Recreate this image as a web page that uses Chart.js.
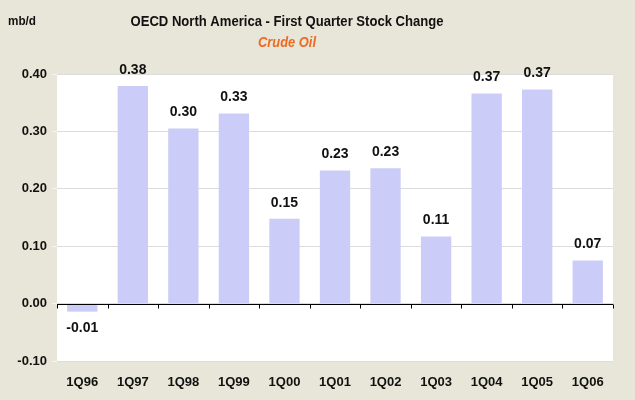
<!DOCTYPE html>
<html>
<head>
<meta charset="utf-8">
<script src="https://cdn.jsdelivr.net/npm/chart.js@4"></script>
<style>
  html, body { margin: 0; padding: 0; background: #e7e6d8; }
  #wrap { width: 635px; height: 400px; }
</style>
</head>
<body>
<div id="wrap"><canvas id="stockChart" width="635" height="400"></canvas></div>
<script>
const quarters = ['1Q96', '1Q97', '1Q98', '1Q99', '1Q00', '1Q01', '1Q02', '1Q03', '1Q04', '1Q05', '1Q06'];
const stockChange = [-0.014, 0.379, 0.305, 0.331, 0.148, 0.232, 0.236, 0.117, 0.366, 0.373, 0.075];
const valueLabels = ['-0.01', '0.38', '0.30', '0.33', '0.15', '0.23', '0.23', '0.11', '0.37', '0.37', '0.07'];
const yMin = -0.1;
const yMax = 0.4;

const fontFamily = 'Arial, "Liberation Sans", Helvetica, sans-serif';

// white plot area, black zero line with ticks, titles and bar labels
const decorations = {
    id: 'decorations',
    beforeDraw(chart) {
        const { ctx, chartArea: a } = chart;
        ctx.save();
        ctx.fillStyle = '#ffffff';
        ctx.fillRect(a.left, a.top, a.right - a.left, a.bottom - a.top);
        ctx.restore();
    },
    afterDatasetsDraw(chart) {
        const { ctx, chartArea: a, scales } = chart;
        const y0 = Math.round(scales.y.getPixelForValue(0)) + 0.5;
        ctx.save();
        ctx.strokeStyle = '#000';
        ctx.lineWidth = 1;
        ctx.beginPath();
        ctx.moveTo(a.left, y0);
        ctx.lineTo(a.right, y0);
        const step = (a.right - a.left) / quarters.length;
        for (let i = 0; i <= quarters.length; i++) {
            const x = Math.round(a.left + i * step) + 0.5;
            ctx.moveTo(x, y0);
            ctx.lineTo(x, y0 + 4);
        }
        ctx.stroke();

        // value labels
        ctx.fillStyle = '#111';
        ctx.font = 'bold 14px ' + fontFamily;
        ctx.textAlign = 'center';
        ctx.textBaseline = 'middle';
        chart.getDatasetMeta(0).data.forEach((bar, i) => {
            const v = stockChange[i];
            const y = v >= 0 ? bar.y - 16 : bar.y + 17;
            ctx.fillText(valueLabels[i], bar.x, y);
        });

        // titles (source font is narrower, so squeeze to its width)
        ctx.font = 'bold 15px ' + fontFamily;
        ctx.fillText('OECD North America - First Quarter Stock Change', 287, 22, 313);
        ctx.fillStyle = '#ee6a22';
        ctx.font = 'italic bold 15px ' + fontFamily;
        ctx.fillText('Crude Oil', 287, 43, 58);
        ctx.fillStyle = '#111';
        ctx.font = 'bold 13px ' + fontFamily;
        ctx.textAlign = 'left';
        ctx.fillText('mb/d', 8, 21, 28);
        ctx.restore();
    }
};

function createStockChart() {
    const ctx = document.getElementById('stockChart').getContext('2d');
    return new Chart(ctx, {
        type: 'bar',
        data: {
            labels: quarters,
            datasets: [{
                label: 'Crude Oil',
                data: stockChange,
                backgroundColor: '#ccccf8',
                borderWidth: 0,
                categoryPercentage: 1,
                barPercentage: 0.6
            }]
        },
        options: {
            responsive: false,
            animation: false,
            events: [],
            layout: { padding: { top: 74, right: 22, left: 0, bottom: 0 } },
            plugins: {
                legend: { display: false },
                tooltip: { enabled: false }
            },
            scales: {
                x: {
                    grid: { display: false, drawTicks: false },
                    border: { display: false },
                    ticks: {
                        color: '#111',
                        padding: 14,
                        font: { family: fontFamily, size: 13, weight: 'bold' }
                    },
                    afterFit(scale) { scale.height = 39; }
                },
                y: {
                    min: yMin,
                    max: yMax,
                    grid: { color: '#dcdcdc', tickColor: '#f6f6f6', tickLength: 5 },
                    border: { display: false },
                    ticks: {
                        stepSize: 0.1,
                        color: '#111',
                        padding: 5,
                        font: { family: fontFamily, size: 13, weight: 'bold' },
                        callback: v => Number(v).toFixed(2)
                    },
                    afterFit(scale) { scale.width = 57; }
                }
            }
        },
        plugins: [decorations]
    });
}

document.addEventListener('DOMContentLoaded', () => {
    createStockChart();
});
</script>
</body>
</html>
